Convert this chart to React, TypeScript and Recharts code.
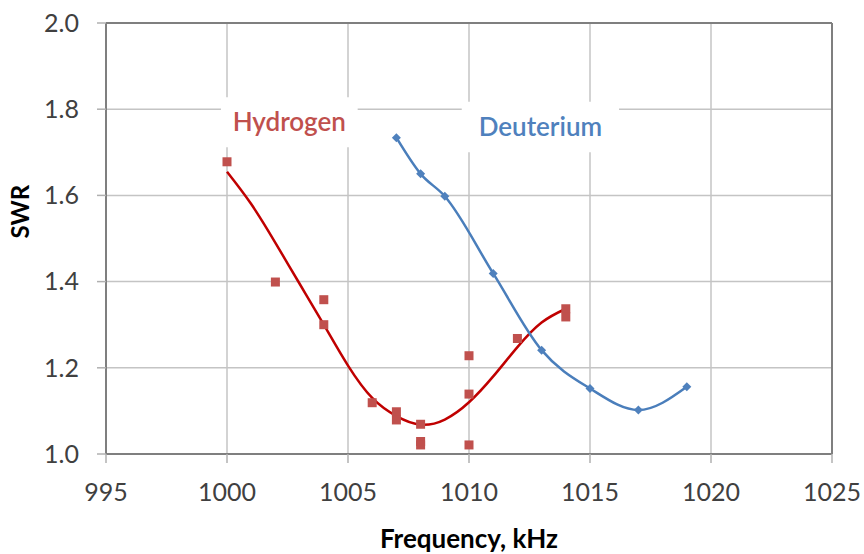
import React from 'react';
import {
  ComposedChart,
  Line,
  Scatter,
  XAxis,
  YAxis,
  CartesianGrid,
  ReferenceLine,
  ReferenceArea,
} from 'recharts';

// measured SWR for hydrogen (square markers)
const hydrogenPoints = [
  { f: 1000, swr: 1.678 },
  { f: 1002, swr: 1.399 },
  { f: 1004, swr: 1.358 },
  { f: 1004, swr: 1.3 },
  { f: 1006, swr: 1.119 },
  { f: 1007, swr: 1.098 },
  { f: 1007, swr: 1.079 },
  { f: 1008, swr: 1.069 },
  { f: 1008, swr: 1.029 },
  { f: 1008, swr: 1.021 },
  { f: 1010, swr: 1.228 },
  { f: 1010, swr: 1.139 },
  { f: 1010, swr: 1.021 },
  { f: 1012, swr: 1.268 },
  { f: 1014, swr: 1.337 },
  { f: 1014, swr: 1.318 },
];

// fitted trend through the hydrogen points
const hydrogenTrend = [
  { f: 1000, swr: 1.655 },
  { f: 1001, swr: 1.58 },
  { f: 1002, swr: 1.49 },
  { f: 1003, swr: 1.395 },
  { f: 1004, swr: 1.3 },
  { f: 1005, swr: 1.205 },
  { f: 1006, swr: 1.13 },
  { f: 1007, swr: 1.088 },
  { f: 1008, swr: 1.068 },
  { f: 1009, swr: 1.08 },
  { f: 1010, swr: 1.12 },
  { f: 1011, swr: 1.18 },
  { f: 1012, swr: 1.248 },
  { f: 1013, swr: 1.305 },
  { f: 1014, swr: 1.337 },
];

// deuterium SWR (diamond markers, smoothed line)
const deuterium = [
  { f: 1007, swr: 1.734 },
  { f: 1008, swr: 1.65 },
  { f: 1009, swr: 1.598 },
  { f: 1011, swr: 1.419 },
  { f: 1013, swr: 1.241 },
  { f: 1015, swr: 1.152 },
  { f: 1017, swr: 1.102 },
  { f: 1019, swr: 1.156 },
];

const xTicks = [995, 1000, 1005, 1010, 1015, 1020, 1025];
const yTicks = [1.0, 1.2, 1.4, 1.6, 1.8, 2.0];

const FONT = 'Lato, "Open Sans", sans-serif';
const RED = '#c0504d';
const RED_LINE = '#c00000';
const BLUE = '#4a7ebb';

const SquareMark = (props: any) => {
  const { cx, cy } = props;
  return <rect x={cx - 4.5} y={cy - 4.5} width={9} height={9} fill={RED} />;
};

const DiamondMark = (props: any) => {
  const { cx, cy, index } = props;
  return (
    <path
      key={index}
      d={`M${cx},${cy - 4.5}L${cx + 4.5},${cy}L${cx},${cy + 4.5}L${cx - 4.5},${cy}Z`}
      fill="#4f81bd"
    />
  );
};

export default function App() {
  return (
    <div style={{ position: 'absolute', left: 0, top: 0, background: '#fff' }}>
      <ComposedChart
        width={864}
        height={554}
        margin={{ top: 23, right: 32, bottom: 0, left: 0 }}
        style={{ fontFamily: FONT }}
      >
        <CartesianGrid stroke="#c4c4c4" strokeWidth={1.5} />
        <XAxis
          type="number"
          dataKey="f"
          domain={[995, 1025]}
          ticks={xTicks}
          height={100}
          tickSize={9}
          tickMargin={20}
          axisLine={{ stroke: '#7f7f7f', strokeWidth: 2 }}
          tickLine={{ stroke: '#b0b0b0', strokeWidth: 1.5 }}
          tick={{ fill: '#404040', fontSize: 25 }}
          label={{
            value: 'Frequency, kHz',
            position: 'insideBottom',
            offset: 6,
            fill: '#000',
            fontSize: 26,
            fontWeight: 700,
          }}
        />
        <YAxis
          type="number"
          domain={[1, 2]}
          ticks={yTicks}
          width={106}
          tickSize={9}
          tickMargin={18}
          tickFormatter={(v: number) => v.toFixed(1)}
          axisLine={{ stroke: '#7f7f7f', strokeWidth: 2 }}
          tickLine={{ stroke: '#b0b0b0', strokeWidth: 1.5 }}
          tick={{ fill: '#404040', fontSize: 25 }}
          label={{
            value: 'SWR',
            angle: -90,
            position: 'insideLeft',
            offset: 20,
            fill: '#000',
            fontSize: 24,
            fontWeight: 700,
          }}
        />
        <ReferenceLine y={2} stroke="#7f7f7f" strokeWidth={2} />
        <ReferenceLine x={1025} stroke="#7f7f7f" strokeWidth={2} />

        <ReferenceArea
          x1={999.75}
          x2={1005.4}
          y1={1.712}
          y2={1.828}
          fill="#fff"
          fillOpacity={1}
          stroke="none"
          label={{ value: 'Hydrogen', position: 'center', fill: RED, fontSize: 26, fontWeight: 600 }}
        />
        <ReferenceArea
          x1={1009.7}
          x2={1016.2}
          y1={1.7}
          y2={1.817}
          fill="#fff"
          fillOpacity={1}
          stroke="none"
          label={{ value: 'Deuterium', position: 'center', fill: '#4f81bd', fontSize: 26, fontWeight: 600 }}
        />

        <Line
          data={hydrogenTrend}
          dataKey="swr"
          type="natural"
          stroke={RED_LINE}
          strokeWidth={2.5}
          dot={false}
          isAnimationActive={false}
        />
        <Scatter
          data={hydrogenPoints}
          dataKey="swr"
          shape={<SquareMark />}
          isAnimationActive={false}
        />
        <Line
          data={deuterium}
          dataKey="swr"
          type="monotone"
          stroke={BLUE}
          strokeWidth={2.5}
          dot={<DiamondMark />}
          isAnimationActive={false}
        />
      </ComposedChart>
    </div>
  );
}
